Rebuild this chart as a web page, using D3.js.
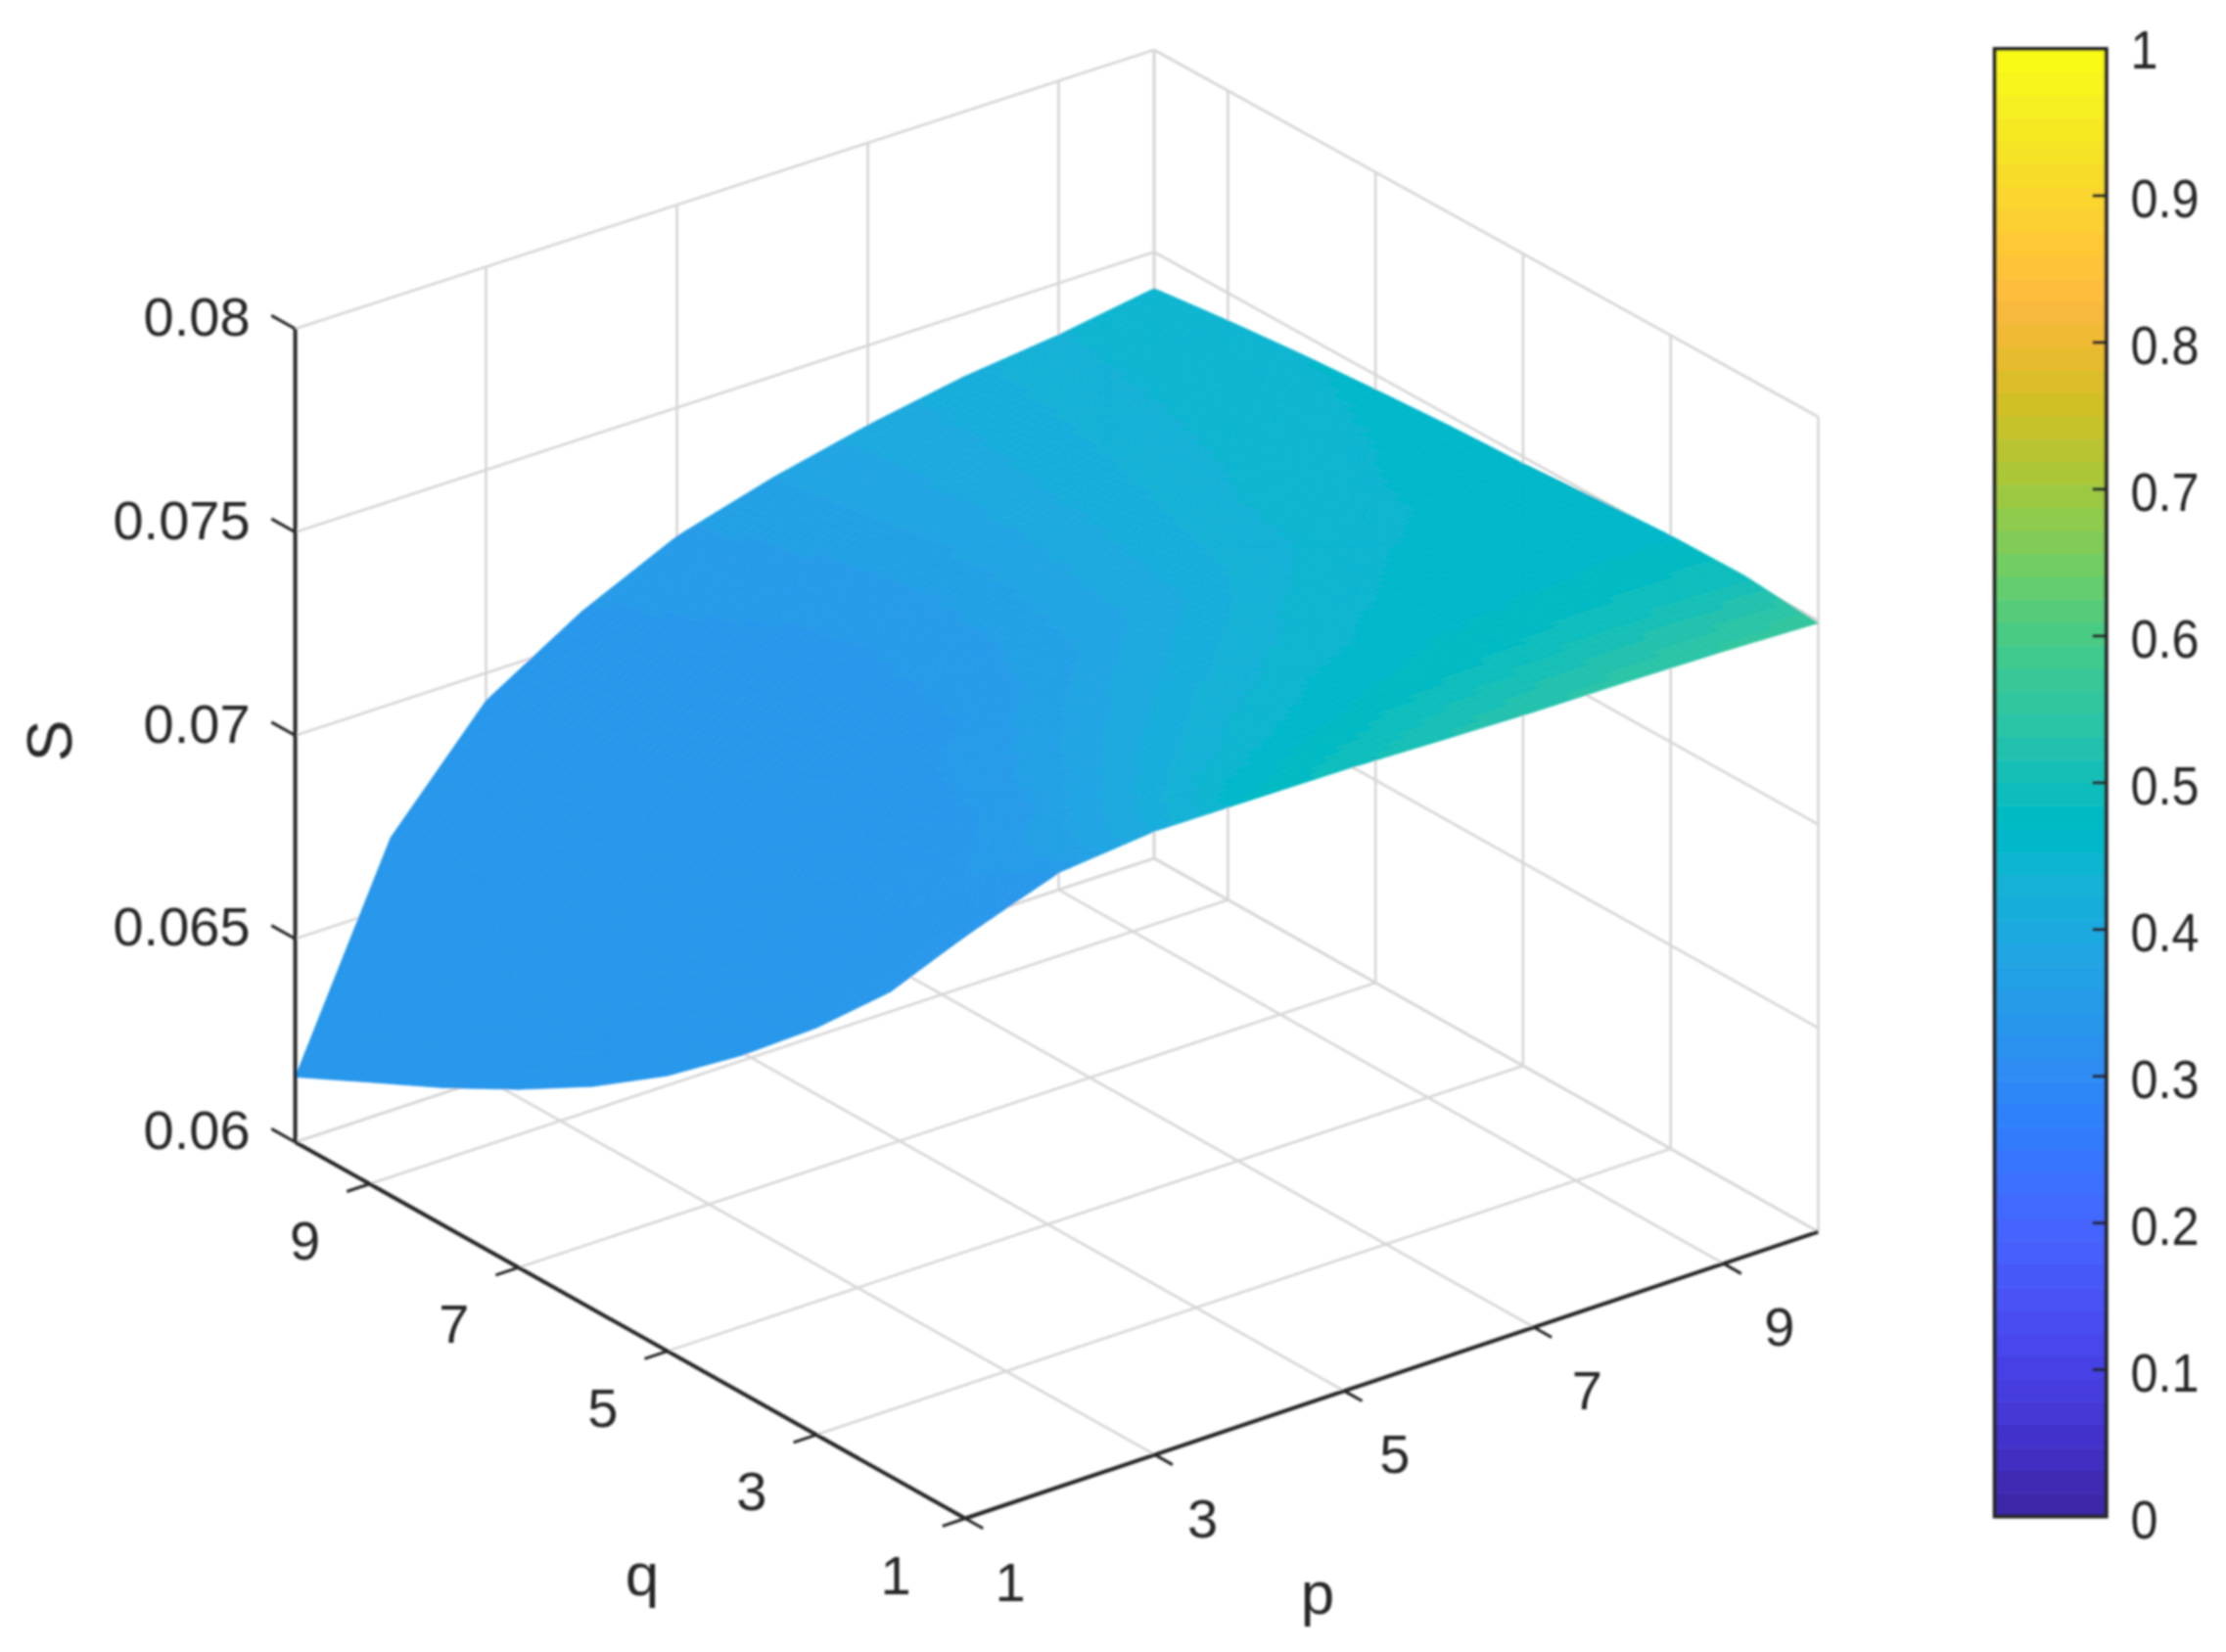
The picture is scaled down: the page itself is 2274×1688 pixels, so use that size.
<!DOCTYPE html>
<html><head><meta charset="utf-8">
<script src="https://cdn.jsdelivr.net/npm/d3@7"></script>
<style>html,body{margin:0;padding:0;background:#fff}svg{display:block}text{font-family:"Liberation Sans",Arial,sans-serif;fill:#262626}</style>
</head><body><svg id="c" width="2274" height="1688"></svg>
<script>
const pValues=[1,2,3,4,5,6,7,8,9,10];
const qValues=[1,2,3,4,5,6,7,8,9,10];
const xTicks=[1,3,5,7,9];
const yTicks=[1,3,5,7,9];
const zTicks=[0.06,0.065,0.07,0.075,0.08];
const zTickLabels=["0.06","0.065","0.07","0.075","0.08"];
const cbTicks=[0,0.1,0.2,0.3,0.4,0.5,0.6,0.7,0.8,0.9,1];
const cbTickLabels=["0","0.1","0.2","0.3","0.4","0.5","0.6","0.7","0.8","0.9","1"];
// surface height S, one row per q (1..10), one column per p (1..10)
const S_q1=[.07431,.0751,.07532,.07529,.07526,.07518,.07511,.07508,.07503,.07494];
const S_q2=[.07192,.0738,.07470,.07505,.07520,.07524,.07524,.07523,.07521,.0751];
const S_q3=[.07,.0722,.07370,.07445,.07480,.07497,.07506,.07510,.07511,.07508];
const S_q4=[.0683,.0709,.07270,.07375,.07430,.07460,.07478,.07488,.07494,.07497];
const S_q5=[.06677,.0697,.07180,.07305,.07375,.07420,.07448,.07464,.07474,.07484];
const S_q6=[.06548,.0687,.07105,.07245,.07325,.07380,.07415,.07440,.07458,.07476];
const S_q7=[.06438,.0680,.07050,.07195,.07285,.07345,.07385,.07415,.07438,.07464];
const S_q8=[.06339,.0674,.07005,.07150,.07245,.07310,.07355,.07390,.07420,.07450];
const S_q9=[.0625,.0670,.06965,.07110,.07212,.07280,.07327,.07368,.07396,.07432];
const S_q10=[.0616,.06672,.06932,.07074,.07183,.0725,.07303,.07345,.07372,.0741];
// surface colour value, same layout
const C_q1=[.335,.344,.41,.47,.495,.515,.53,.54,.55,.56];
const C_q2=[.335,.338,.38,.425,.452,.47,.48,.488,.492,.497];
const C_q3=[.335,.335,.348,.39,.424,.446,.458,.462,.465,.467];
const C_q4=[.335,.335,.337,.362,.394,.422,.445,.456,.46,.462];
const C_q5=[.335,.335,.335,.342,.366,.394,.424,.446,.455,.459];
const C_q6=[.335,.335,.335,.337,.355,.386,.415,.44,.452,.457];
const C_q7=[.335,.335,.335,.336,.348,.378,.408,.432,.449,.455];
const C_q8=[.335,.335,.335,.337,.349,.375,.402,.425,.445,.453];
const C_q9=[.335,.335,.335,.34,.353,.374,.398,.42,.44,.451];
const C_q10=[.335,.335,.335,.342,.356,.375,.396,.416,.436,.449];
const parula=[[.2422,.1504,.6603],[.2504,.1650,.7076],[.2578,.1818,.7511],[.2647,.1978,.7952],[.2706,.2147,.8364],[.2751,.2342,.8710],[.2783,.2559,.8991],[.2803,.2782,.9221],[.2813,.3006,.9414],[.2810,.3228,.9579],[.2795,.3447,.9717],[.2760,.3667,.9829],[.2699,.3892,.9906],[.2602,.4123,.9952],[.2440,.4358,.9988],[.2206,.4603,.9973],[.1963,.4847,.9892],[.1834,.5074,.9798],[.1786,.5289,.9682],[.1764,.5499,.9520],[.1687,.5703,.9359],[.1540,.5902,.9218],[.1460,.6091,.9079],[.1380,.6276,.8973],[.1248,.6459,.8883],[.1113,.6635,.8763],[.0952,.6798,.8598],[.0689,.6948,.8394],[.0297,.7082,.8163],[.0036,.7203,.7917],[.0067,.7312,.7660],[.0433,.7411,.7394],[.0964,.7500,.7120],[.1408,.7584,.6842],[.1717,.7670,.6554],[.1938,.7758,.6251],[.2161,.7843,.5923],[.2470,.7918,.5567],[.2906,.7973,.5188],[.3406,.8008,.4789],[.3909,.8029,.4354],[.4456,.8024,.3909],[.5044,.7993,.3480],[.5616,.7942,.3045],[.6174,.7876,.2612],[.6720,.7793,.2227],[.7242,.7698,.1910],[.7738,.7598,.1646],[.8203,.7498,.1535],[.8634,.7406,.1596],[.9035,.7330,.1774],[.9393,.7288,.2100],[.9728,.7298,.2394],[.9956,.7434,.2371],[.9970,.7659,.2199],[.9952,.7893,.2028],[.9892,.8136,.1885],[.9786,.8386,.1766],[.9676,.8639,.1643],[.9610,.8890,.1537],[.9597,.9135,.1423],[.9628,.9373,.1265],[.9691,.9606,.1064],[.9769,.9839,.0805]];

const S=[S_q1,S_q2,S_q3,S_q4,S_q5,S_q6,S_q7,S_q8,S_q9,S_q10];
const C=[C_q1,C_q2,C_q3,C_q4,C_q5,C_q6,C_q7,C_q8,C_q9,C_q10];
const colors=parula.map(c=>d3.rgb(c[0]*255,c[1]*255,c[2]*255).formatHex());
const color=d3.scaleQuantize().domain([0,1]).range(colors);

const corners={ // floor and ceiling corners of the plot box on the page
  F:[986,1551.5,720], R:[1857.5,1258.6,426], L:[301.6,1167,336], B:[1179,877,51]};
const u=d3.scaleLinear().domain([1,10]).range([0,1]);
const v=d3.scaleLinear().domain([1,10]).range([0,1]);
const w=d3.scaleLinear().domain([0.06,0.08]).range([0,1]);
function proj(p,q,z){
  const a=u(p),b=v(q),c=w(z);
  const mix=i=>(1-a)*(1-b)*corners.F[i]+a*(1-b)*corners.R[i]+(1-a)*b*corners.L[i]+a*b*corners.B[i];
  return [mix(0),mix(1)+(mix(2)-mix(1))*c];
}
const Z0=0.06,Z1=0.08;
const svg=d3.select("#c");
const defs=svg.append("defs");
defs.append("filter").attr("id","soft").attr("x","-2%").attr("y","-2%").attr("width","104%").attr("height","104%")
  .append("feGaussianBlur").attr("stdDeviation",0.8);
const root=svg.append("g").attr("filter","url(#soft)");
const line=d3.line();
function seg(g,a,b,stroke,sw){g.append("path").attr("d",line([a,b])).attr("stroke",stroke).attr("stroke-width",sw).attr("fill","none");}

// grid
const grid=root.append("g");
const gc="#d6d6d6",gw=2.6;
const pg=[3,5,7,9,10],qg=[3,5,7,9,10];
pg.forEach(p=>{seg(grid,proj(p,1,Z0),proj(p,10,Z0),gc,gw);seg(grid,proj(p,10,Z0),proj(p,10,Z1),gc,gw);});
qg.forEach(q=>{seg(grid,proj(1,q,Z0),proj(10,q,Z0),gc,gw);seg(grid,proj(10,q,Z0),proj(10,q,Z1),gc,gw);});
seg(grid,proj(10,1,Z0),proj(10,1,Z1),gc,gw);
zTicks.forEach(z=>{seg(grid,proj(1,10,z),proj(10,10,z),gc,gw);seg(grid,proj(10,10,z),proj(10,1,z),gc,gw);});

// surface
const sg=root.append("g");
const N=10;
function bil(M,i,j,s,t){return (1-s)*(1-t)*M[j][i]+s*(1-t)*M[j][i+1]+(1-s)*t*M[j+1][i]+s*t*M[j+1][i+1];}
const polys=[];
for(let j=qValues.length-2;j>=0;j--)for(let i=pValues.length-2;i>=0;i--){
  for(let b=N-1;b>=0;b--)for(let a=N-1;a>=0;a--){
    const pt=(s,t)=>proj(pValues[i]+s,qValues[j]+t,bil(S,i,j,s,t));
    const s0=a/N,s1=(a+1)/N,t0=b/N,t1=(b+1)/N;
    polys.push({d:line([pt(s0,t0),pt(s1,t0),pt(s1,t1),pt(s0,t1)])+"Z",f:color(bil(C,i,j,(s0+s1)/2,(t0+t1)/2))});
  }
}
sg.selectAll("path").data(polys).join("path").attr("d",d=>d.d).attr("fill",d=>d.f).attr("stroke",d=>d.f).attr("stroke-width",0.7);

// axes
const ax=root.append("g");
const ac="#262626",aw=4;
seg(ax,proj(1,1,Z0),proj(10,1,Z0),ac,aw);
seg(ax,proj(1,1,Z0),proj(1,10,Z0),ac,aw);
seg(ax,proj(1,10,Z0),proj(1,10,Z1),ac,aw);
const tickLenP=0.24,tickLenQ=0.24,tickLenZ=0.32;
xTicks.forEach(p=>{const a=proj(p,1,Z0),b=proj(p,1-tickLenQ,Z0);seg(ax,a,b,ac,3);});
yTicks.forEach(q=>{const a=proj(1,q,Z0),b=proj(1-tickLenP,q,Z0);seg(ax,a,b,ac,3);});
zTicks.forEach(z=>{const a=proj(1,10,z),b=proj(1,10+tickLenZ,z);seg(ax,a,b,ac,3);});

const FS=56;
function label(g,x,y,t,opt={}){
  return g.append("text").attr("x",x).attr("y",y).attr("dy","0.36em").attr("text-anchor",opt.anchor||"middle").attr("font-size",opt.fs||FS).text(t);
}
// tick labels placed at a fixed offset from the projected tick
xTicks.forEach(p=>{const a=proj(p,1,Z0);label(root,a[0]+46+(p-1)*1.4,a[1]+64,String(p));});
yTicks.forEach(q=>{const a=proj(1,q,Z0);label(root,a[0]-66-(q===1?5:0),a[1]+57,String(q));});
zTicks.forEach((z,i)=>{const a=proj(1,10,z);label(root,a[0]-46,a[1]-13,zTickLabels[i],{anchor:"end"});});
label(root,656,1608,"q",{fs:62});
label(root,1346,1627,"p",{fs:62});
root.append("text").attr("transform","translate(50,757) rotate(-90)").attr("dy","0.36em").attr("text-anchor","middle").attr("font-size",64).text("S");

// colorbar
const cb=root.append("g");
const cbY=d3.scaleLinear().domain([0,1]).range([1549.5,50]);
const cbX0=2037.7,cbX1=2151.7;
const bandEdges=d3.range(colors.length+1).map(i=>i/colors.length);
cb.selectAll("rect.b").data(colors).join("rect").attr("class","b")
  .attr("x",cbX0).attr("width",cbX1-cbX0)
  .attr("y",(d,i)=>cbY(bandEdges[i+1])).attr("height",(d,i)=>cbY(bandEdges[i])-cbY(bandEdges[i+1])+0.5)
  .attr("fill",d=>d);
cb.append("rect").attr("x",cbX0).attr("y",cbY(1)).attr("width",cbX1-cbX0).attr("height",cbY(0)-cbY(1)).attr("fill","none").attr("stroke",ac).attr("stroke-width",4);
cbTicks.slice(1,-1).forEach(t=>seg(cb,[cbX1-14,cbY(t)],[cbX1,cbY(t)],ac,3.4));
cbTicks.forEach((t,i)=>{
  const lab=cbTickLabels[i];
  const e=label(cb,2176.5,cbY(t)+(t===1?0:2),lab,{anchor:"start"});
  e.attr("textLength",lab.length>1?70:28).attr("lengthAdjust","spacingAndGlyphs");
});
</script></body></html>
